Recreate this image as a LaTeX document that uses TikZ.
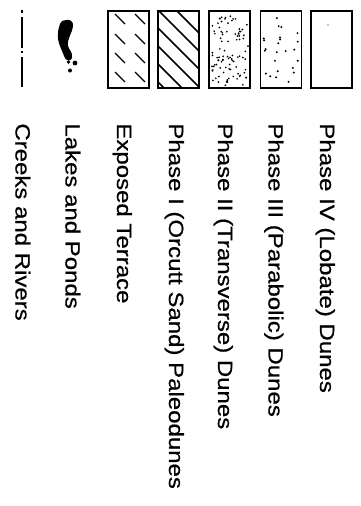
\documentclass[tikz,border=0pt]{standalone}
\usepackage{fontspec}
\setmainfont{Liberation Sans}
\newfontfamily\legendfont{Liberation Sans}[FakeBold=0.6]

\begin{document}
\begin{tikzpicture}[x=1pt, y=-1pt, thick,
    legend box/.style={draw, line width=1.4pt, minimum width=41pt, minimum height=77pt, inner sep=0pt},
    legend text/.style={rotate=-90, yscale=0.86, anchor=base west, inner sep=0pt, font=\legendfont\fontsize{24}{24}\selectfont}]

      \useasboundingbox (0,0) rectangle (361,506);

      % boxes
      \node[legend box] (IV)  at (331.5,49.5) {};
      \node[legend box] (III) at (281,49.5) {};
      \node[legend box] (II)  at (229.5,49.5) {};
      \node[legend box] (I)   at (178.5,49.5) {};
      \node[legend box] (ET)  at (128.5,49.5) {};

      % fills
      \fill (328,25) circle (0.7pt);

      \pgfmathsetseed{41}
      \begin{scope}
        \clip (III.north west) rectangle (III.south east);
        \foreach \i in {1,...,24}
          \fill ({263+rnd*36},{15+rnd*70}) circle (1.1pt);
      \end{scope}

      \begin{scope}
        \clip (II.north west) rectangle (II.south east);
        \foreach \i in {1,...,95}
          \fill ({212+rnd*36},{14+rnd*72}) circle (0.95pt);
      \end{scope}

      \begin{scope}
        \clip (I.north west) rectangle (I.south east);
        \foreach \y in {-8,10,...,82}
          \draw[line width=1.5pt] (158,\y) -- ++(60,60);
      \end{scope}

      \foreach \y in {19,39,58,77}
        \foreach \x in {120,140}
          \draw[line width=1.4pt] (\x-5,\y-5) -- (\x+5,\y+5);

      % lakes
      \fill (60,24) .. controls (62,18) and (74,18) .. (73,26)
        .. controls (72,34) and (67,38) .. (68,46)
        .. controls (69,50) and (73,52) .. (72,58)
        .. controls (71,62) and (65,61) .. (64,56)
        .. controls (62,50) and (57,42) .. (58,34)
        .. controls (58,30) and (59,27) .. cycle;
      \fill (75,63) circle (2.4pt);
      \fill (68.5,62) circle (1.8pt);
      \fill (70,70.5) circle (2pt);

      % creeks
      \coordinate (c1) at (22,10);
      \coordinate (c2) at (22,87);
      \draw[line width=1.2pt, dash pattern=on 3pt off 4pt on 31pt off 3pt on 2pt off 4pt on 40pt] (c1) -- (c2);

      % labels
      \node[legend text] (tIV)  at (320,123) {Phase IV (Lobate) Dunes};
      \node[legend text] (tIII) at (268.5,123) {Phase III (Parabolic) Dunes};
      \node[legend text] (tII)  at (218,123) {Phase II (Transverse) Dunes};
      \node[legend text] (tI)   at (169,123) {Phase I (Orcutt Sand) Paleodunes};
      \node[legend text] (tET)  at (117,123) {Exposed Terrace};
      \node[legend text] (tLP)  at (65.5,123) {Lakes and Ponds};
      \node[legend text] (tCR)  at (15.5,123) {Creeks and Rivers};

    \end{tikzpicture}
\end{document}
